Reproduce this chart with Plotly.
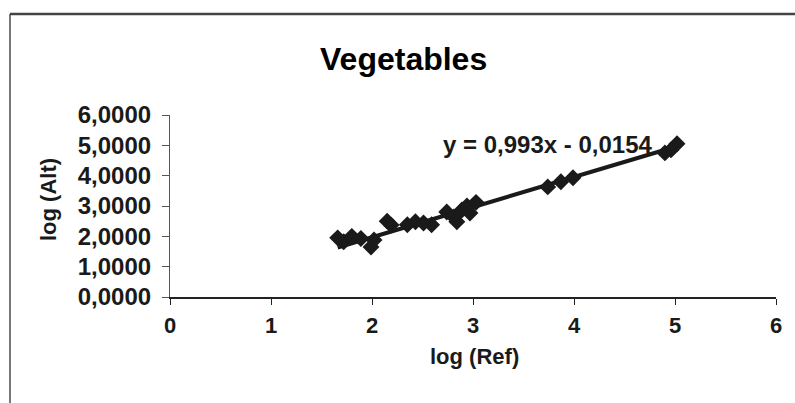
import plotly.graph_objects as go

# Data
log_ref = [1.66, 1.72, 1.80, 1.89, 1.99, 2.02, 2.15, 2.19, 2.35, 2.43, 2.51, 2.59,
           2.74, 2.81, 2.84, 2.89, 2.94, 2.97, 3.03, 3.74, 3.87, 3.99, 4.90, 4.96, 5.02]
log_alt = [1.95, 1.82, 2.00, 1.93, 1.65, 1.88, 2.50, 2.37, 2.38, 2.48, 2.44, 2.38,
           2.80, 2.64, 2.48, 2.87, 3.00, 2.77, 3.12, 3.63, 3.80, 3.93, 4.75, 4.85, 5.05]
slope = 0.993
intercept = -0.0154
equation = "y = 0,993x - 0,0154"
x_ticks = [0, 1, 2, 3, 4, 5, 6]
y_ticks = [0, 1, 2, 3, 4, 5, 6]

FONT = "Liberation Sans, Arial, sans-serif"
INK = "#1a1a1a"

L, R, T, B = 170, 776, 115, 297
PW, PH = R - L, B - T


def px(p):
    return (p - L) / PW


def py(q):
    return (B - q) / PH


xmin, xmax = min(log_ref), max(log_ref)
trend_x = [xmin, xmax]
trend_y = [slope * v + intercept for v in trend_x]

fig = go.Figure()
fig.add_trace(go.Scatter(x=log_ref, y=log_alt, mode="markers",
                         marker=dict(symbol="diamond", size=13, color=INK,
                                     line=dict(width=0)),
                         showlegend=False, cliponaxis=False))
fig.add_trace(go.Scatter(x=trend_x, y=trend_y, mode="lines",
                         line=dict(color=INK, width=4), showlegend=False))

fig.update_layout(
    width=795, height=403,
    margin=dict(l=L, r=795 - R, t=T, b=403 - B),
    paper_bgcolor="white", plot_bgcolor="white",
    separators=",.",
    font=dict(family=FONT, color=INK),
    xaxis=dict(range=[0, 6], tickvals=x_ticks, showgrid=False, zeroline=False,
               showline=True, linecolor="#222", linewidth=2,
               ticks="outside", ticklen=6, tickcolor="#222", tickwidth=1,
               ticklabelstandoff=2,
               tickfont=dict(size=22, family=FONT, weight="bold", color=INK)),
    yaxis=dict(range=[0, 6], tickvals=y_ticks, tickformat=".4f",
               showgrid=False, zeroline=False,
               showline=True, linecolor="#555", linewidth=1.2,
               ticks="outside", ticklen=7, tickcolor="#555", tickwidth=1,
               ticklabelstandoff=6,
               tickfont=dict(size=24, family=FONT, weight="bold", color=INK)),
    annotations=[
        dict(text="<b>Vegetables</b>", xref="paper", yref="paper",
             x=px(403), y=py(59), showarrow=False,
             font=dict(size=32, family=FONT, color="black"),
             xanchor="center", yanchor="middle"),
        dict(text="<b>log (Ref)</b>", xref="paper", yref="paper",
             x=px(474), y=py(356), showarrow=False,
             font=dict(size=22, family=FONT, color=INK),
             xanchor="center", yanchor="middle"),
        dict(text="<b>log (Alt)</b>", xref="paper", yref="paper",
             x=px(48), y=py(200), showarrow=False,
             textangle=-90,
             font=dict(size=22, family=FONT, color=INK),
             xanchor="center", yanchor="middle"),
        dict(text="<b>" + equation + "</b>", x=3.74, y=5.02, xref="x", yref="y",
             showarrow=False, font=dict(size=24, family=FONT, color=INK),
             xanchor="center", yanchor="middle"),
    ],
    shapes=[
        dict(type="line", xref="paper", yref="paper",
             x0=px(10), x1=px(10), y0=py(410), y1=py(14),
             line=dict(color="#777", width=2)),
        dict(type="line", xref="paper", yref="paper",
             x0=px(10), x1=px(800), y0=py(14), y1=py(14),
             line=dict(color="#444", width=2.5)),
    ],
)

fig.write_html("out.html")
